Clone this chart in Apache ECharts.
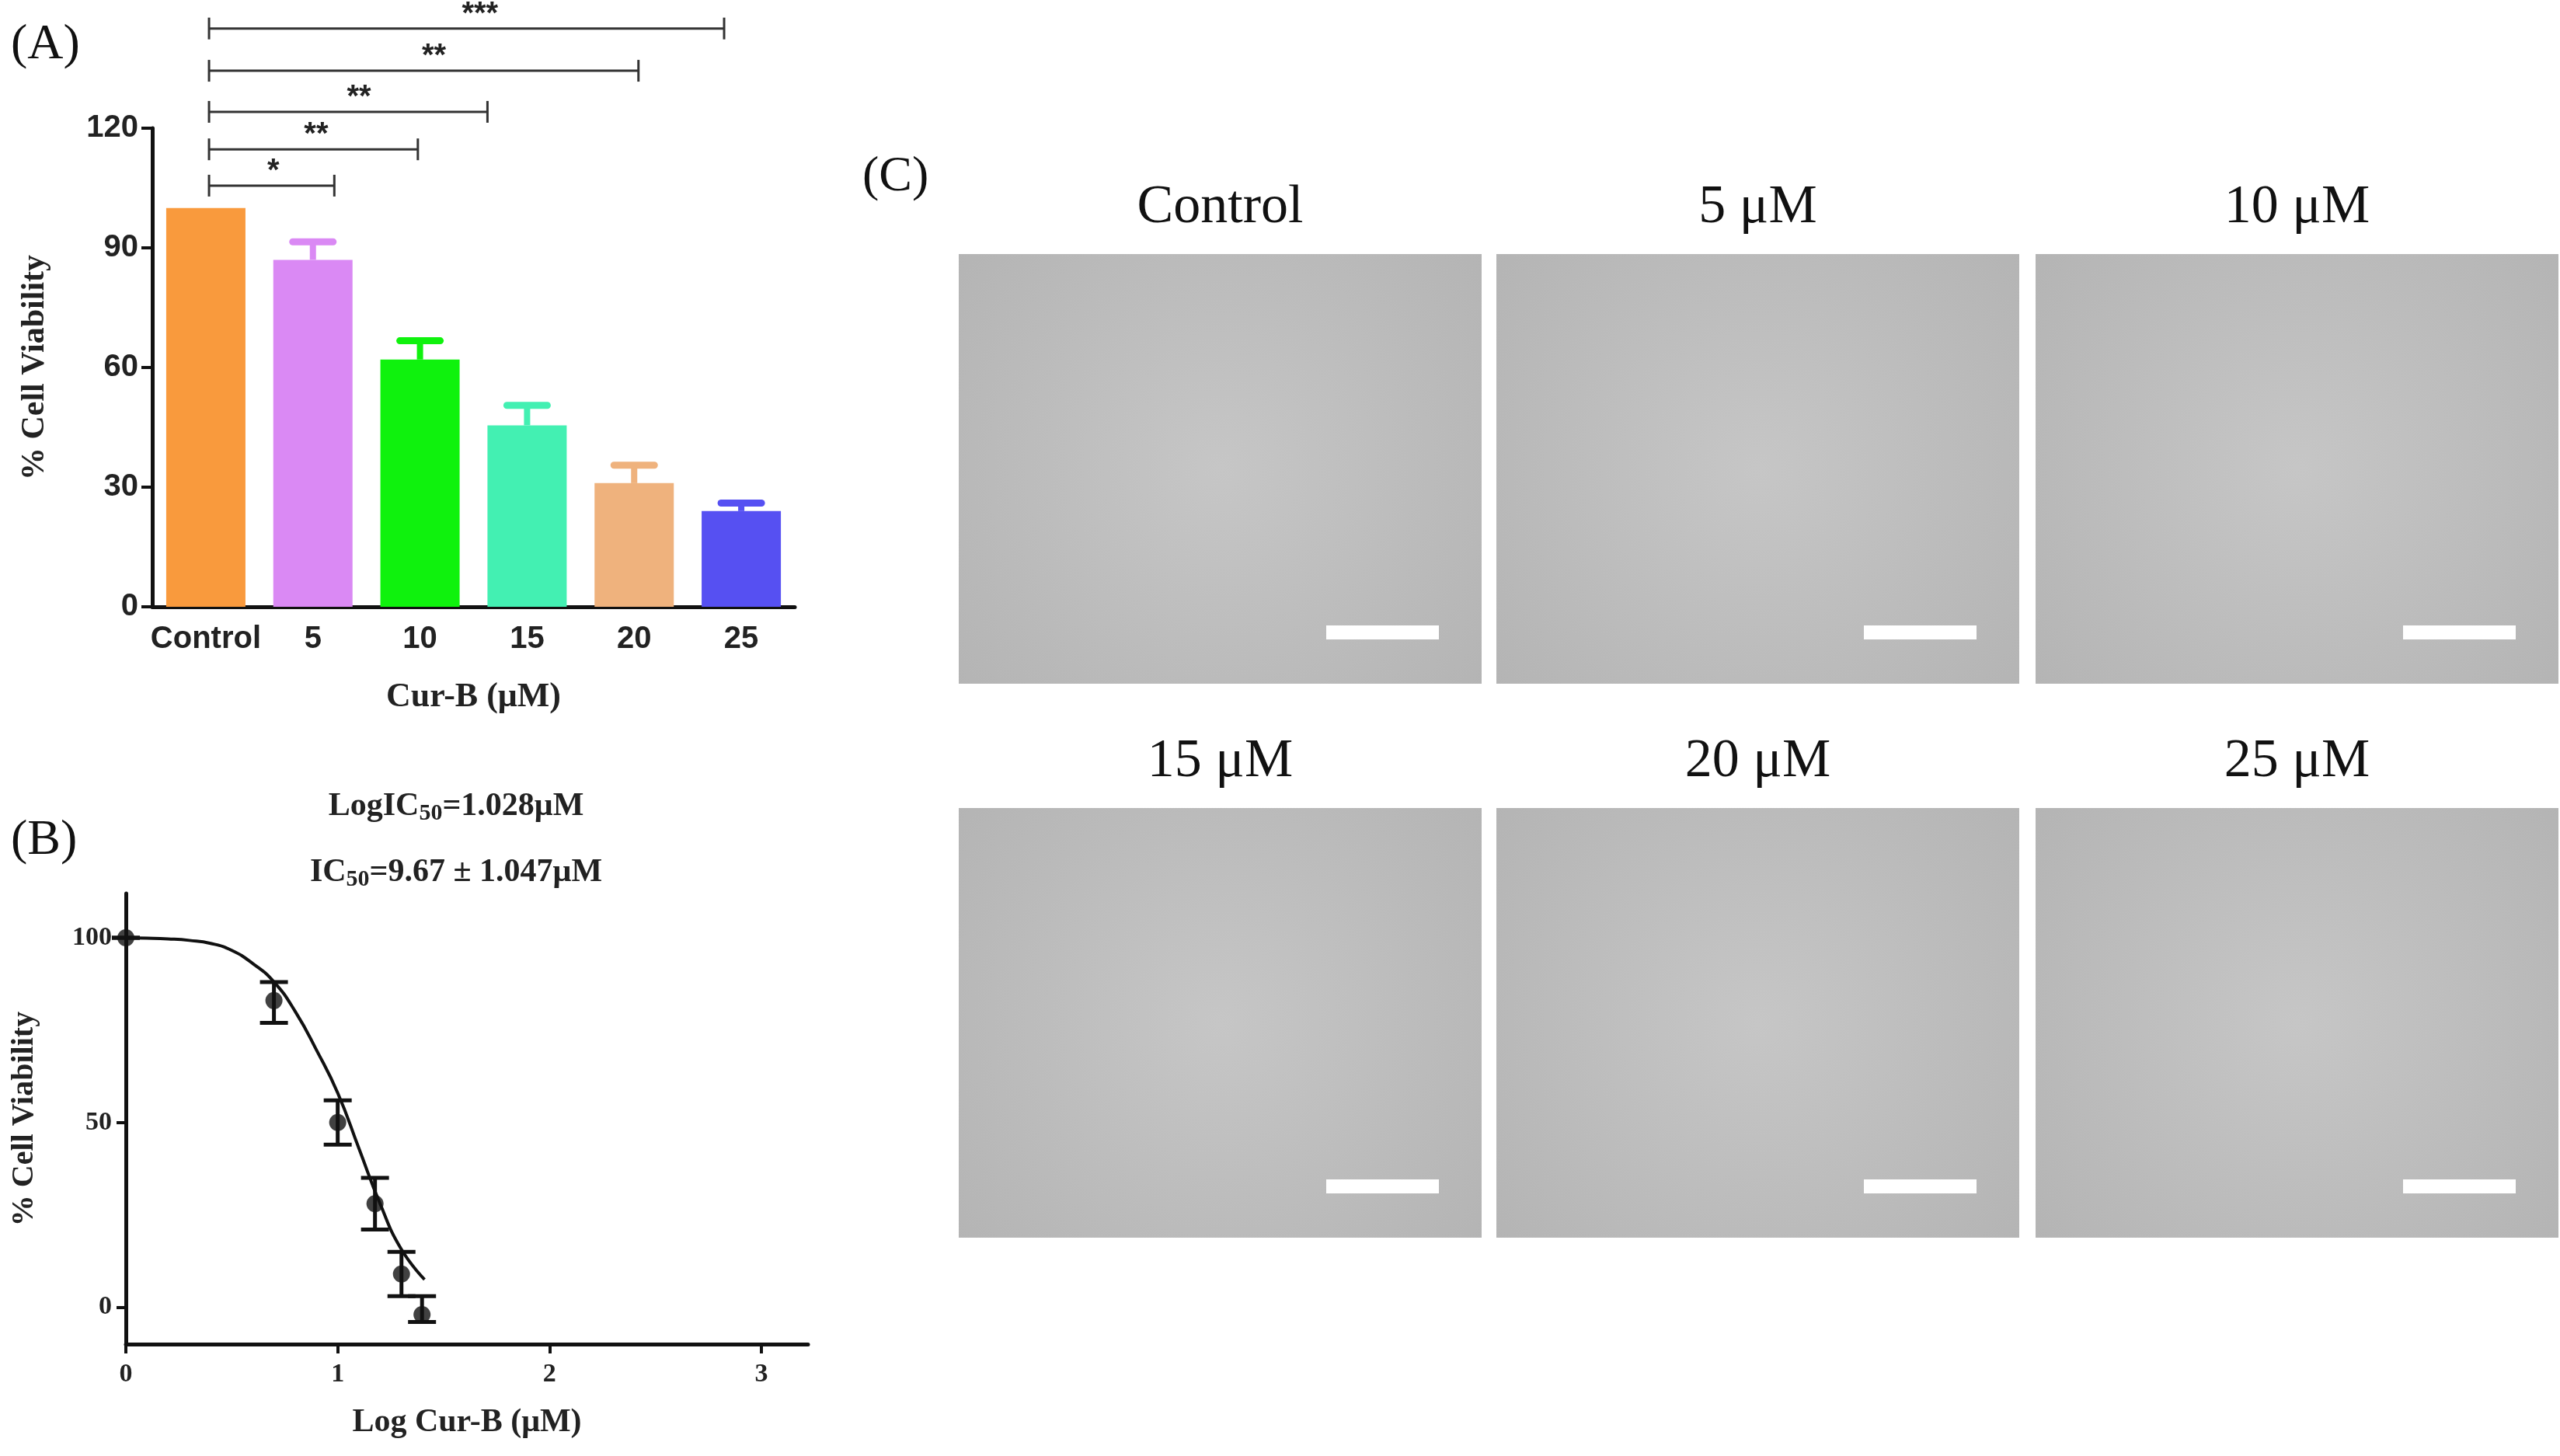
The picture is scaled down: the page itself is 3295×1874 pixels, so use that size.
<!DOCTYPE html>
<html>
<head>
<meta charset="utf-8">
<script src="https://cdn.jsdelivr.net/npm/echarts@6/dist/echarts.min.js"></script>
<style>
  html, body { margin: 0; padding: 0; background: #fff; }
  #chart { width: 3295px; height: 1874px; }
</style>
</head>
<body>
<div id="chart"></div>
<script>
// panel A: bar chart
const doseCats = ['Control', '5', '10', '15', '20', '25'];
const viability = [100, 87, 62, 45.5, 31, 24];
const viabilityErrTop = [null, 91.5, 66.7, 50.5, 35.5, 26];
const barColors = ['#f99a3d', '#da89f4', '#0ff20d', '#43f0b2', '#efb27d', '#5650f2'];
// significance brackets: [from, to, height, stars, starPos]
const brackets = [
  [0.03, 1.20, 105.6, '*', 0.63],
  [0.03, 1.98, 114.7, '**', 1.03],
  [0.03, 2.63, 124.1, '**', 1.43],
  [0.03, 4.04, 134.4, '**', 2.13],
  [0.03, 4.84, 145.0, '***', 2.56]
];

// panel B: dose-response
const logDose = [0, 0.699, 1.0, 1.176, 1.301, 1.398];
const respMean = [100, 83, 50, 28, 9, -2];
const respLow = [100, 77, 44, 21, 3, -4];
const respHigh = [100, 88, 56, 35, 15, 3];
const fitX = [0, 0.1, 0.2, 0.3, 0.4, 0.5, 0.6, 0.7, 0.8, 0.9, 1.0, 1.1, 1.2, 1.3, 1.41];
const fitY = [100, 99.9, 99.7, 99.3, 98.5, 96.6, 93, 88, 80, 69.6, 58, 43, 28, 15.7, 7.5];

// panel C: micrograph tiles
const photoTitles = ['Control', '5 μM', '10 μM', '15 μM', '20 μM', '25 μM'];

const chart = echarts.init(document.getElementById('chart'));

const serif = '"Liberation Serif", "DejaVu Serif", serif';
const sans = '"Liberation Sans", Arial, sans-serif';

const errA = [];
viability.forEach((v, i) => {
  if (viabilityErrTop[i] != null) errA.push([i, v, viabilityErrTop[i]]);
});
const errB = logDose.map((x, i) => [x, respLow[i], respHigh[i]]);

// photo tiles as graphic rectangles
const tileX = [1234, 1926, 2620];
const tileY = [327, 1040];
const tileW = 673, tileH = 553;
const tiles = [];
photoTitles.forEach((t, k) => {
  const x = tileX[k % 3], y = tileY[Math.floor(k / 3)];
  tiles.push({
    type: 'rect', shape: { x: x, y: y, width: tileW, height: tileH },
    style: { fill: new echarts.graphic.RadialGradient(0.5, 0.5, 0.8, [
      { offset: 0, color: '#c6c6c6' }, { offset: 1, color: '#b4b4b4' }]) }
  });
  tiles.push({
    type: 'rect', shape: { x: x + tileW - 200, y: y + tileH - 75, width: 145, height: 18 },
    style: { fill: '#ffffff' }
  });
  tiles.push({
    type: 'text', x: x + tileW / 2, y: y - 24,
    style: { text: t, font: '70px ' + serif, fill: '#111', textAlign: 'center', textVerticalAlign: 'bottom' }
  });
});

const option = {
  backgroundColor: '#fff',
  animation: false,
  graphic: [
    { type: 'text', x: 14, y: 58, style: { text: '(A)', font: '64px ' + serif, fill: '#111', textVerticalAlign: 'middle' } },
    { type: 'text', x: 14, y: 1082, style: { text: '(B)', font: '64px ' + serif, fill: '#111', textVerticalAlign: 'middle' } },
    { type: 'text', x: 1110, y: 228, style: { text: '(C)', font: '64px ' + serif, fill: '#111', textVerticalAlign: 'middle' } },
    {
      type: 'text', x: 587, y: 1038,
      style: {
        text: '{m|LogIC}{s|50}{m|=1.028μM}', textAlign: 'center', textVerticalAlign: 'middle',
        rich: { m: { font: 'bold 42px ' + serif, fill: '#222' }, s: { font: 'bold 30px ' + serif, fill: '#222', padding: [18, 0, 0, 0] } }
      }
    },
    {
      type: 'text', x: 587, y: 1123,
      style: {
        text: '{m|IC}{s|50}{m|=9.67 ± 1.047μM}', textAlign: 'center', textVerticalAlign: 'middle',
        rich: { m: { font: 'bold 42px ' + serif, fill: '#222' }, s: { font: 'bold 30px ' + serif, fill: '#222', padding: [18, 0, 0, 0] } }
      }
    }
  ].concat(tiles),
  grid: [
    { left: 196, top: 165, width: 827, height: 616 },
    { left: 162, top: 1150, width: 878, height: 580 }
  ],
  xAxis: [
    {
      gridIndex: 0, type: 'category', data: doseCats,
      name: 'Cur-B (μM)', nameLocation: 'middle', nameGap: 95,
      nameTextStyle: { fontFamily: serif, fontWeight: 'bold', fontSize: 44, color: '#222' },
      axisLine: { onZero: false, lineStyle: { color: '#111', width: 5 } },
      axisTick: { show: false },
      axisLabel: { interval: 0, fontFamily: sans, fontWeight: 'bold', fontSize: 40, color: '#222', margin: 22 }
    },
    { gridIndex: 0, type: 'value', min: -0.5, max: 5.5, show: false },
    {
      gridIndex: 1, type: 'value', min: 0, max: 3.22,
      name: 'Log Cur-B (μM)', nameLocation: 'middle', nameGap: 80,
      nameTextStyle: { fontFamily: serif, fontWeight: 'bold', fontSize: 42, color: '#222' },
      axisLine: { onZero: false, lineStyle: { color: '#111', width: 5 } },
      axisTick: { length: 12, customValues: [0, 1, 2, 3], lineStyle: { width: 4, color: '#111' } },
      axisLabel: { customValues: [0, 1, 2, 3], fontFamily: serif, fontWeight: 'bold', fontSize: 34, color: '#222', margin: 22 },
      splitLine: { show: false }
    }
  ],
  yAxis: [
    {
      gridIndex: 0, type: 'value', min: 0, max: 120, interval: 30,
      name: '% Cell Viability', nameLocation: 'middle', nameGap: 130,
      nameTextStyle: { fontFamily: serif, fontWeight: 'bold', fontSize: 42, color: '#222' },
      axisLine: { show: true, onZero: false, lineStyle: { color: '#111', width: 5 } },
      axisTick: { show: true, length: 14, lineStyle: { width: 4, color: '#111' } },
      axisLabel: { fontFamily: sans, fontWeight: 'bold', fontSize: 40, color: '#222', margin: 18 },
      splitLine: { show: false }
    },
    {
      gridIndex: 1, type: 'value', min: -10, max: 112,
      name: '% Cell Viability', nameLocation: 'middle', nameGap: 110,
      nameTextStyle: { fontFamily: serif, fontWeight: 'bold', fontSize: 40, color: '#222' },
      axisLine: { show: true, onZero: false, lineStyle: { color: '#111', width: 5 } },
      axisTick: { show: true, length: 12, customValues: [0, 50, 100], lineStyle: { width: 4, color: '#111' } },
      axisLabel: { fontFamily: serif, fontWeight: 'bold', fontSize: 34, color: '#222', margin: 18, customValues: [0, 50, 100] },
      splitLine: { show: false }
    }
  ],
  series: [
    {
      type: 'bar', xAxisIndex: 0, yAxisIndex: 0, data: viability.map((v, i) => ({ value: v, itemStyle: { color: barColors[i] } })),
      barCategoryGap: '26%', z: 2
    },
    {
      type: 'custom', xAxisIndex: 0, yAxisIndex: 0, data: errA, z: 1,
      renderItem: function (params, api) {
        const idx = api.value(0);
        const base = api.coord([idx, api.value(1)]);
        const top = api.coord([idx, api.value(2)]);
        const col = barColors[idx];
        return {
          type: 'group', children: [
            { type: 'line', shape: { x1: base[0], y1: base[1], x2: top[0], y2: top[1] }, style: { stroke: col, lineWidth: 8 } },
            { type: 'line', shape: { x1: top[0] - 26, y1: top[1], x2: top[0] + 26, y2: top[1] }, style: { stroke: col, lineWidth: 9, lineCap: 'round' } }
          ]
        };
      }
    },
    {
      type: 'custom', xAxisIndex: 1, yAxisIndex: 0, clip: false, data: brackets.map((b, i) => [i]),
      renderItem: function (params, api) {
        const b = brackets[params.dataIndex];
        const p1 = api.coord([b[0], b[2]]);
        const p2 = api.coord([b[1], b[2]]);
        const ps = api.coord([b[4], b[2]]);
        const st = { stroke: '#333', lineWidth: 3 };
        return {
          type: 'group', children: [
            { type: 'line', shape: { x1: p1[0], y1: p1[1], x2: p2[0], y2: p2[1] }, style: st },
            { type: 'line', shape: { x1: p1[0], y1: p1[1] - 14, x2: p1[0], y2: p1[1] + 14 }, style: st },
            { type: 'line', shape: { x1: p2[0], y1: p2[1] - 14, x2: p2[0], y2: p2[1] + 14 }, style: st },
            { type: 'text', x: ps[0], y: p1[1] + 2, style: { text: b[3], font: 'bold 40px ' + sans, fill: '#222', textAlign: 'center', textVerticalAlign: 'bottom' } }
          ]
        };
      }
    },
    {
      type: 'line', xAxisIndex: 2, yAxisIndex: 1, data: fitX.map((x, i) => [x, fitY[i]]),
      smooth: true, showSymbol: false, lineStyle: { color: '#111', width: 4 }
    },
    {
      type: 'custom', xAxisIndex: 2, yAxisIndex: 1, data: errB, clip: false,
      renderItem: function (params, api) {
        const lo = api.coord([api.value(0), api.value(1)]);
        const hi = api.coord([api.value(0), api.value(2)]);
        const st = { stroke: '#111', lineWidth: 5 };
        return {
          type: 'group', children: [
            { type: 'line', shape: { x1: lo[0], y1: lo[1], x2: hi[0], y2: hi[1] }, style: st },
            { type: 'line', shape: { x1: lo[0] - 18, y1: lo[1], x2: lo[0] + 18, y2: lo[1] }, style: st },
            { type: 'line', shape: { x1: hi[0] - 18, y1: hi[1], x2: hi[0] + 18, y2: hi[1] }, style: st }
          ]
        };
      }
    },
    {
      type: 'scatter', xAxisIndex: 2, yAxisIndex: 1, data: logDose.map((x, i) => [x, respMean[i]]),
      symbol: 'circle', symbolSize: 22, itemStyle: { color: '#111' }, clip: false, z: 5
    }
  ]
};

chart.setOption(option);
</script>
</body>
</html>
